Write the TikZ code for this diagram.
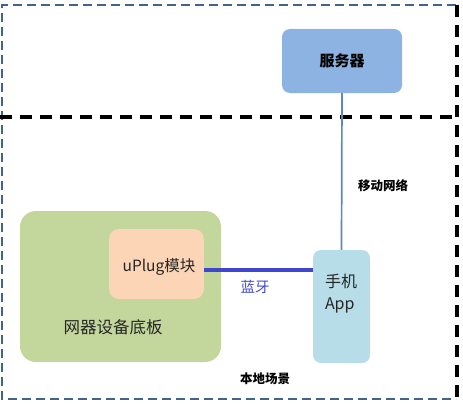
\documentclass[tikz,border=0pt]{standalone}
\usepackage{fontspec}
\setmainfont{Noto Sans CJK SC}
\usetikzlibrary{positioning,calc}

\definecolor{frameBlue}{HTML}{41648F}
\definecolor{serverFill}{HTML}{8DB3E2}
\definecolor{boardFill}{HTML}{C3D69B}
\definecolor{moduleFill}{HTML}{FBD5B5}
\definecolor{phoneFill}{HTML}{B7DEE8}
\definecolor{netBlue}{HTML}{5B87C2}
\definecolor{btBlue}{HTML}{3F48CC}

\begin{document}
\begin{tikzpicture}[x=1pt, y=-1pt,
    every node/.style={align=center, inner sep=0pt},
    serverBox/.style={fill=serverFill, rounded corners=8pt, minimum width=120pt, minimum height=64pt, font=\bfseries\fontsize{15}{17}\selectfont},
    boardBox/.style={fill=boardFill, rounded corners=16pt, minimum width=201pt, minimum height=151pt},
    moduleBox/.style={fill=moduleFill, rounded corners=10pt, minimum width=95pt, minimum height=70pt},
    phoneBox/.style={fill=phoneFill, rounded corners=8pt, minimum width=57pt, minimum height=113pt},
    boxText/.style={font=\fontsize{15.5}{19}\selectfont, text=black!85},
    smallLabel/.style={font=\bfseries\fontsize{12.5}{14}\selectfont},
    netLine/.style={draw=netBlue, line width=1.7pt},
    btLine/.style={draw=btBlue, line width=3.4pt},
    outerFrame/.style={draw=frameBlue, line width=1.8pt, dash pattern=on 9pt off 5pt},
    splitLine/.style={draw=black, line width=3.6pt, dash pattern=on 12pt off 8pt}
  ]
  \useasboundingbox (0,0) rectangle (463,404);

  % frame and the dividing line
  \draw[outerFrame] (456,5) -- (2,5) -- (2,399) -- (456,399);
  \draw[splitLine] (457,5) -- (457,401);
  \draw[splitLine] (0,117) -- (455,117);

  % cloud side
  \node[serverBox] (server) at (342,61) {服务器};

  % local side
  \node[boardBox] (board) at (120.5,286.5) {};
  \node[moduleBox] (module) at (156.5,264) {};
  \node[boxText] (moduleText) at (159,267) {uPlug模块};
  \node[boxText, font=\fontsize{16.5}{19}\selectfont] (boardText) at (113,327) {网器设备底板};
  \node[phoneBox] (phone) at (341.5,306.5) {};
  \node[boxText, align=left, font=\fontsize{16}{22}\selectfont] (phoneText) at (341,294) {手机\\App};

  % connections
  \draw[netLine] (server.south) -- (phone.north);
  \draw[btLine] ([yshift=-6pt]module.east) -- ([yshift=-6pt]module.east -| phone.west);

  \node[smallLabel] (netLabel) at (383,186) {移动网络};
  \node[text=btBlue, font=\fontsize{14.5}{16}\selectfont] (btLabel) at (255,287) {蓝牙};
  \node[smallLabel] (sceneLabel) at (265,379) {本地场景};
\end{tikzpicture}
\end{document}
